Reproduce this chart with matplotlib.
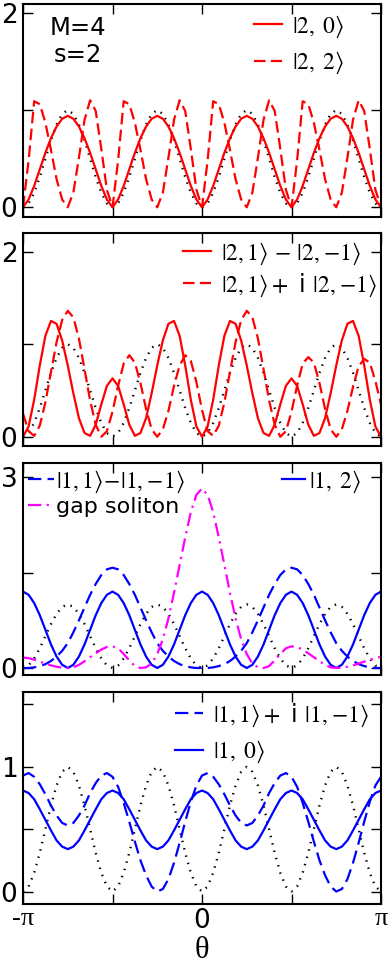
import numpy as np
import matplotlib
matplotlib.use('Agg')
import matplotlib.pyplot as plt

plt.rcParams['mathtext.fontset'] = 'stix'
plt.rcParams['font.family'] = ['DejaVu Sans']

# sample grid: theta from -pi to pi in steps of pi/32 (65 samples)
theta = np.linspace(-np.pi, np.pi, 65)

# dotted black curve (lattice potential), same in all panels
potential = [
    0, .04, .15, .31, .50, .69, .85, .96, 1.0, .96, .85, .69, .50, .31, .15, .04,
    0, .04, .15, .31, .50, .69, .85, .96, 1.0, .96, .85, .69, .50, .31, .15, .04,
    0, .04, .15, .31, .50, .69, .85, .96, 1.0, .96, .85, .69, .50, .31, .15, .04,
    0, .04, .15, .31, .50, .69, .85, .96, 1.0, .96, .85, .69, .50, .31, .15, .04,
    0]

# panel 1
state_20 = [
    0, .08, .22, .39, .56, .71, .83, .91, .94, .91, .83, .71, .56, .39, .22, .08,
    0, .08, .22, .39, .56, .71, .83, .91, .94, .91, .83, .71, .56, .39, .22, .08,
    0, .08, .22, .39, .56, .71, .83, .91, .94, .91, .83, .71, .56, .39, .22, .08,
    0, .08, .22, .39, .56, .71, .83, .91, .94, .91, .83, .71, .56, .39, .22, .08,
    0]
state_22 = [
    0, .48, 1.09, 1.06, .87, .59, .29, .08, 0, .15, .51, .90, 1.10, .99, .60, .18,
    0, .48, 1.09, 1.06, .87, .59, .29, .08, 0, .15, .51, .90, 1.10, .99, .60, .18,
    0, .48, 1.09, 1.06, .87, .59, .29, .08, 0, .15, .51, .90, 1.10, .99, .60, .18,
    0, .48, 1.09, 1.06, .87, .59, .29, .08, 0, .15, .51, .90, 1.10, .99, .60, .18,
    0]

# panel 2
state_21_minus = [
    0, .11, .40, .77, 1.09, 1.25, 1.22, 1.04, .77, .47, .20, .04, .01, .13, .35, .55,
    .63, .55, .35, .13, .01, .04, .20, .47, .77, 1.04, 1.22, 1.25, 1.09, .77, .40, .11,
    0, .11, .40, .77, 1.09, 1.25, 1.22, 1.04, .77, .47, .20, .04, .01, .13, .35, .55,
    .63, .55, .35, .13, .01, .04, .20, .47, .77, 1.04, 1.22, 1.25, 1.09, .77, .40, .11,
    0]
state_21_plus_i = [
    .25, .06, .01, .12, .37, .70, 1.02, 1.26, 1.36, 1.29, 1.06, .73, .39, .13, 0, .06,
    .27, .55, .79, .88, .80, .58, .30, .08, 0, .08, .28, .55, .77, .88, .82, .59,
    .29, .06, .01, .12, .37, .70, 1.02, 1.26, 1.36, 1.29, 1.06, .73, .39, .13, 0, .06,
    .27, .55, .79, .86, .80, .58, .30, .08, 0, .08, .28, .54, .76, .84, .80, .60,
    .35]

# panel 3
state_11_minus = [
    0, 0, .01, .03, .06, .11, .18, .27, .39, .56, .75, .95, 1.15, 1.32, 1.46, 1.55,
    1.575, 1.55, 1.46, 1.32, 1.15, .95, .75, .56, .39, .27, .18, .11, .06, .03, .01, 0,
    0, 0, .01, .03, .06, .11, .18, .27, .39, .56, .75, .95, 1.15, 1.32, 1.46, 1.55,
    1.575, 1.55, 1.46, 1.32, 1.15, .95, .75, .56, .39, .27, .18, .11, .06, .03, .01, 0,
    0]
state_12 = [
    1.2, 1.15, 1.02, .83, .60, .37, .18, .05, 0, .05, .18, .37, .60, .83, 1.02, 1.15,
    1.2, 1.15, 1.02, .83, .60, .37, .18, .05, 0, .05, .18, .37, .60, .83, 1.02, 1.15,
    1.2, 1.15, 1.02, .83, .60, .37, .18, .05, 0, .05, .18, .37, .60, .83, 1.02, 1.15,
    1.2, 1.15, 1.02, .83, .60, .37, .18, .05, 0, .05, .18, .37, .60, .83, 1.02, 1.15,
    1.2]
gap_soliton = [
    .165, .155, .13, .10, .07, .04, .02, .005, 0, .01, .05, .105, .17, .23, .29, .33,
    .34, .31, .22, .12, .03, 0, .01, .07, .22, .45, .78, 1.18, 1.62, 2.05, 2.45, 2.72,
    2.82, 2.72, 2.45, 2.05, 1.62, 1.18, .78, .45, .22, .07, .01, 0, .03, .12, .22, .31,
    .34, .33, .29, .23, .17, .105, .05, .01, 0, .005, .02, .04, .07, .10, .13, .155,
    .175]

# panel 4
state_11_plus_i = [
    .93, .95, .92, .86, .78, .69, .61, .55, .53, .55, .61, .69, .79, .87, .93, .95,
    .92, .84, .71, .56, .40, .25, .13, .04, 0, .02, .10, .23, .39, .56, .72, .85,
    .93, .95, .92, .86, .78, .69, .61, .55, .53, .55, .61, .69, .79, .87, .93, .95,
    .92, .84, .71, .56, .40, .25, .13, .04, 0, .02, .10, .23, .39, .56, .72, .85,
    .92]
state_10 = [
    .81, .79, .74, .66, .575, .49, .41, .36, .34, .36, .41, .49, .575, .66, .74, .79,
    .81, .79, .74, .66, .575, .49, .41, .36, .34, .36, .41, .49, .575, .66, .74, .79,
    .81, .79, .74, .66, .575, .49, .41, .36, .34, .36, .41, .49, .575, .66, .74, .79,
    .81, .79, .74, .66, .575, .49, .41, .36, .34, .36, .41, .49, .575, .66, .74, .79,
    .81]

xtick_vals = [-np.pi, -np.pi / 2, 0, np.pi / 2, np.pi]
xtick_labels = ['-π', '', '0', '', 'π']

W, H = 392, 969
fig = plt.figure(figsize=(W / 100, H / 100), dpi=100)

panel_px = [(4, 217), (233, 446), (463, 675), (692, 904)]
axes = []
for top, bot in panel_px:
    ax = fig.add_axes([23 / W, 1 - bot / H, 358 / W, (bot - top) / H])
    axes.append(ax)

RED = '#ff0000'
BLUE = '#0000ff'
MAG = '#ff00ff'
DOT = dict(color='black', lw=1.7, linestyle=(0, (0.6, 2.6)))
DASH = (0, (5.2, 2.4))
LW = 1.6


def style(ax, ylim, yticks, ylabels, show_x=False):
    ax.set_xlim(-np.pi, np.pi)
    ax.set_ylim(*ylim)
    ax.set_xticks(xtick_vals)
    if show_x:
        ax.set_xticklabels(xtick_labels)
        for t in ax.get_xticklabels():
            if 'π' in t.get_text():
                t.set_fontfamily(['Liberation Serif', 'DejaVu Serif'])
                t.set_fontsize(23)
    else:
        ax.set_xticklabels([])
    ax.set_yticks(yticks)
    ax.set_yticklabels(ylabels)
    ax.tick_params(direction='in', length=7, width=1.0, top=True, right=True,
                   labelsize=19, pad=4)
    ax.tick_params(axis='x', pad=3)
    for s in ax.spines.values():
        s.set_linewidth(1.5)


LFS = 17
leg_kw = dict(frameon=False, borderpad=0, borderaxespad=0, handlelength=1.2,
              handletextpad=0.4, loc='upper left', fontsize=LFS)

# ---- panel 1
ax = axes[0]
ax.plot(theta, potential, **DOT)
l1, = ax.plot(theta, state_20, color=RED, lw=LW)
l2, = ax.plot(theta, state_22, color=RED, lw=LW, linestyle=DASH)
ax.legend([l1, l2], [r'$|2,\;0\rangle$', r'$|2,\;2\rangle$'],
          bbox_to_anchor=(0.645, 0.955), labelspacing=0.42, **leg_kw)
ax.text(0.154, 0.885, 'M=4', transform=ax.transAxes, ha='center', va='center', fontsize=17.5)
ax.text(0.154, 0.76, 's=2', transform=ax.transAxes, ha='center', va='center', fontsize=17.5)
style(ax, (-0.1, 2.09), [0, 1, 2], ['0', '', '2'])

# ---- panel 2
ax = axes[1]
ax.plot(theta, potential, **DOT)
l1, = ax.plot(theta, state_21_minus, color=RED, lw=LW)
l2, = ax.plot(theta, state_21_plus_i, color=RED, lw=LW, linestyle=DASH)
ax.legend([l1, l2], [r'$|2,1\rangle\,-\,|2,\!-\!1\rangle$',
                     r'$|2,1\rangle+$ i $|2,\!-\!1\rangle$'],
          bbox_to_anchor=(0.447, 0.965), labelspacing=0.2, **leg_kw)
style(ax, (-0.1, 2.2), [0, 1, 2], ['0', '', '2'])

# ---- panel 3
ax = axes[2]
ax.plot(theta, potential, **DOT)
l1, = ax.plot(theta, state_11_minus, color=BLUE, lw=LW, linestyle=(0, (6.0, 2.8)))
l2, = ax.plot(theta, state_12, color=BLUE, lw=LW)
l3, = ax.plot(theta, gap_soliton, color=MAG, lw=LW, linestyle=(0, (6.0, 2.4, 1.0, 2.4)))
kw = dict(leg_kw)
kw['handletextpad'] = 0.1
kw['handlelength'] = 1.1
legA = ax.legend([l1, l3], [r'$|1,1\rangle\!-\!|1,\!-\!1\rangle$', 'gap soliton'],
                 bbox_to_anchor=(0.014, 0.975), labelspacing=0.1, **kw)
legA.get_texts()[1].set_fontsize(16)
ax.add_artist(legA)
kw2 = dict(leg_kw)
kw2['handletextpad'] = 0.15
kw2['handlelength'] = 1.0
ax.legend([l2], [r'$|1,\;2\rangle$'], bbox_to_anchor=(0.723, 0.975), **kw2)
style(ax, (-0.11, 3.22), [0, 1.5, 3], ['0', '', '3'])

# ---- panel 4
ax = axes[3]
ax.plot(theta, potential, **DOT)
l1, = ax.plot(theta, state_11_plus_i, color=BLUE, lw=LW, linestyle=(0, (6.0, 2.8)))
l2, = ax.plot(theta, state_10, color=BLUE, lw=LW)
ax.legend([l1, l2], [r'$|1,1\rangle+$ i $|1,\!-\!1\rangle$', r'$|1,\;0\rangle$'],
          bbox_to_anchor=(0.425, 0.955), labelspacing=0.42, **leg_kw)
style(ax, (-0.1, 1.6), [0, 0.5, 1, 1.5], ['0', '', '1', ''], show_x=True)
ax.set_xlabel('θ', fontsize=22, family=['Liberation Serif', 'DejaVu Serif'], labelpad=1)

fig.savefig('out.png', dpi=100)
